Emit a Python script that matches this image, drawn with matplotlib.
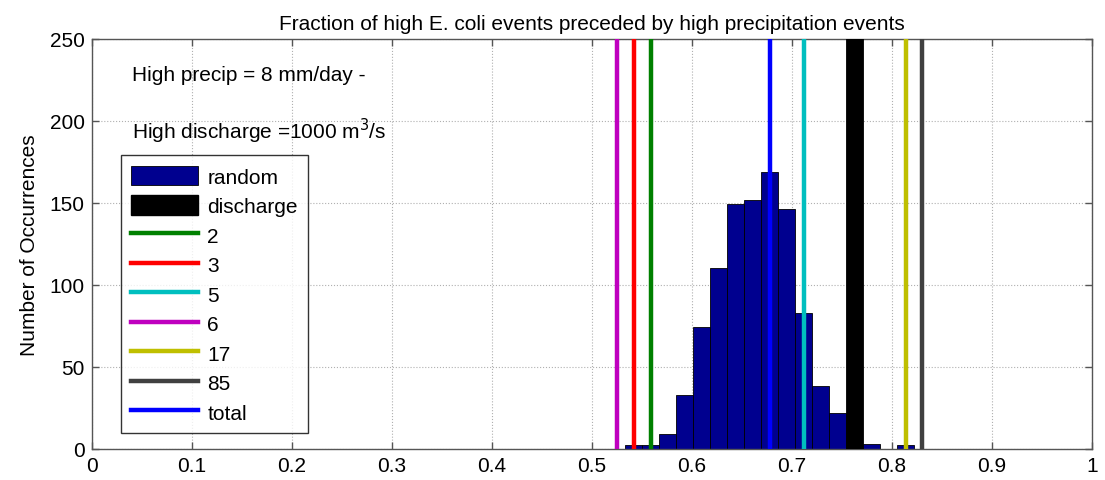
import numpy as np
from matplotlib import pyplot as plt
from matplotlib.patches import Patch
from matplotlib.lines import Line2D

plt.rcParams['font.family'] = ['Liberation Sans', 'DejaVu Sans']

#--- data ---------------------------------------------------------------------#
bin_width = 0.017
bin_centers = [0.542, 0.559, 0.576, 0.593, 0.610, 0.627, 0.644, 0.661, 0.678,
               0.695, 0.712, 0.729, 0.746, 0.780, 0.797, 0.814]
random_counts = [2, 2, 9, 33, 74, 110, 149, 152, 169,
                 146, 83, 38, 22, 3, 0, 2]

discharge_frac = 0.763
discharge_height = 1000

line_labels = ['2', '3', '5', '6', '17', '85', 'total']
line_fracs = [0.559, 0.542, 0.712, 0.525, 0.814, 0.830, 0.678]
line_colors = [(0, 0.5, 0), (1, 0, 0), (0, 0.75, 0.75), (0.75, 0, 0.75),
               (0.75, 0.75, 0), (0.25, 0.25, 0.25), (0, 0, 1)]

#--- plot ---------------------------------------------------------------------#
fs = 15
fig = plt.figure(figsize=(11.05, 4.81), dpi=100)
ax = fig.add_axes([0.083, 0.065, 0.905, 0.852])

navy = (0, 0, 0.5625)
ax.bar(bin_centers, random_counts, bin_width, color=navy, edgecolor='black',
       linewidth=0.6, zorder=2)
ax.bar([discharge_frac], [discharge_height], bin_width, color='black',
       edgecolor='black', linewidth=0.6, zorder=3)

for x, c in zip(line_fracs, line_colors):
    ax.axvline(x, color=c, linewidth=3.2, zorder=4)

ax.set_xlim(0, 1)
ax.set_ylim(0, 250)
ax.set_xticks(np.arange(0, 1.01, 0.1))
ax.set_xticklabels(['0', '0.1', '0.2', '0.3', '0.4', '0.5', '0.6', '0.7',
                    '0.8', '0.9', '1'])
ax.set_yticks(np.arange(0, 251, 50))
ax.grid(True, linestyle=':', color='#b0b0b0', linewidth=0.8, zorder=0)
ax.set_axisbelow(True)
ax.tick_params(direction='in', top=True, right=True, length=5, width=1,
               color='#555555', labelsize=fs, pad=5)
for s in ax.spines.values():
    s.set_color('#555555')
    s.set_linewidth(1.0)

ax.set_ylabel('Number of Occurrences', fontsize=fs, labelpad=8)
ax.set_title('Fraction of high E. coli events preceded by high precipitation events',
             fontsize=fs, pad=7)

ax.text(0.04, 228.5, 'High precip = 8 mm/day -', fontsize=fs, va='center')
ax.text(0.04, 194, 'High discharge =1000 m$^3$/s', fontsize=fs, va='center')

handles = [Patch(facecolor=navy, edgecolor='black', linewidth=0.6),
           Patch(facecolor='black', edgecolor='black')]
handles += [Line2D([0], [0], color=c, linewidth=3.2) for c in line_colors]
labels = ['random', 'discharge'] + line_labels
leg = ax.legend(handles, labels, loc='lower left', bbox_to_anchor=(0.029, 0.038),
                fontsize=fs, frameon=True, fancybox=False, handlelength=3.2,
                handleheight=1.05, handletextpad=0.45, labelspacing=0.42,
                borderpad=0.5, borderaxespad=0)
leg.get_frame().set_edgecolor('black')
leg.get_frame().set_linewidth(1.0)
leg.set_zorder(5)

fig.savefig('out.png', dpi=100)
